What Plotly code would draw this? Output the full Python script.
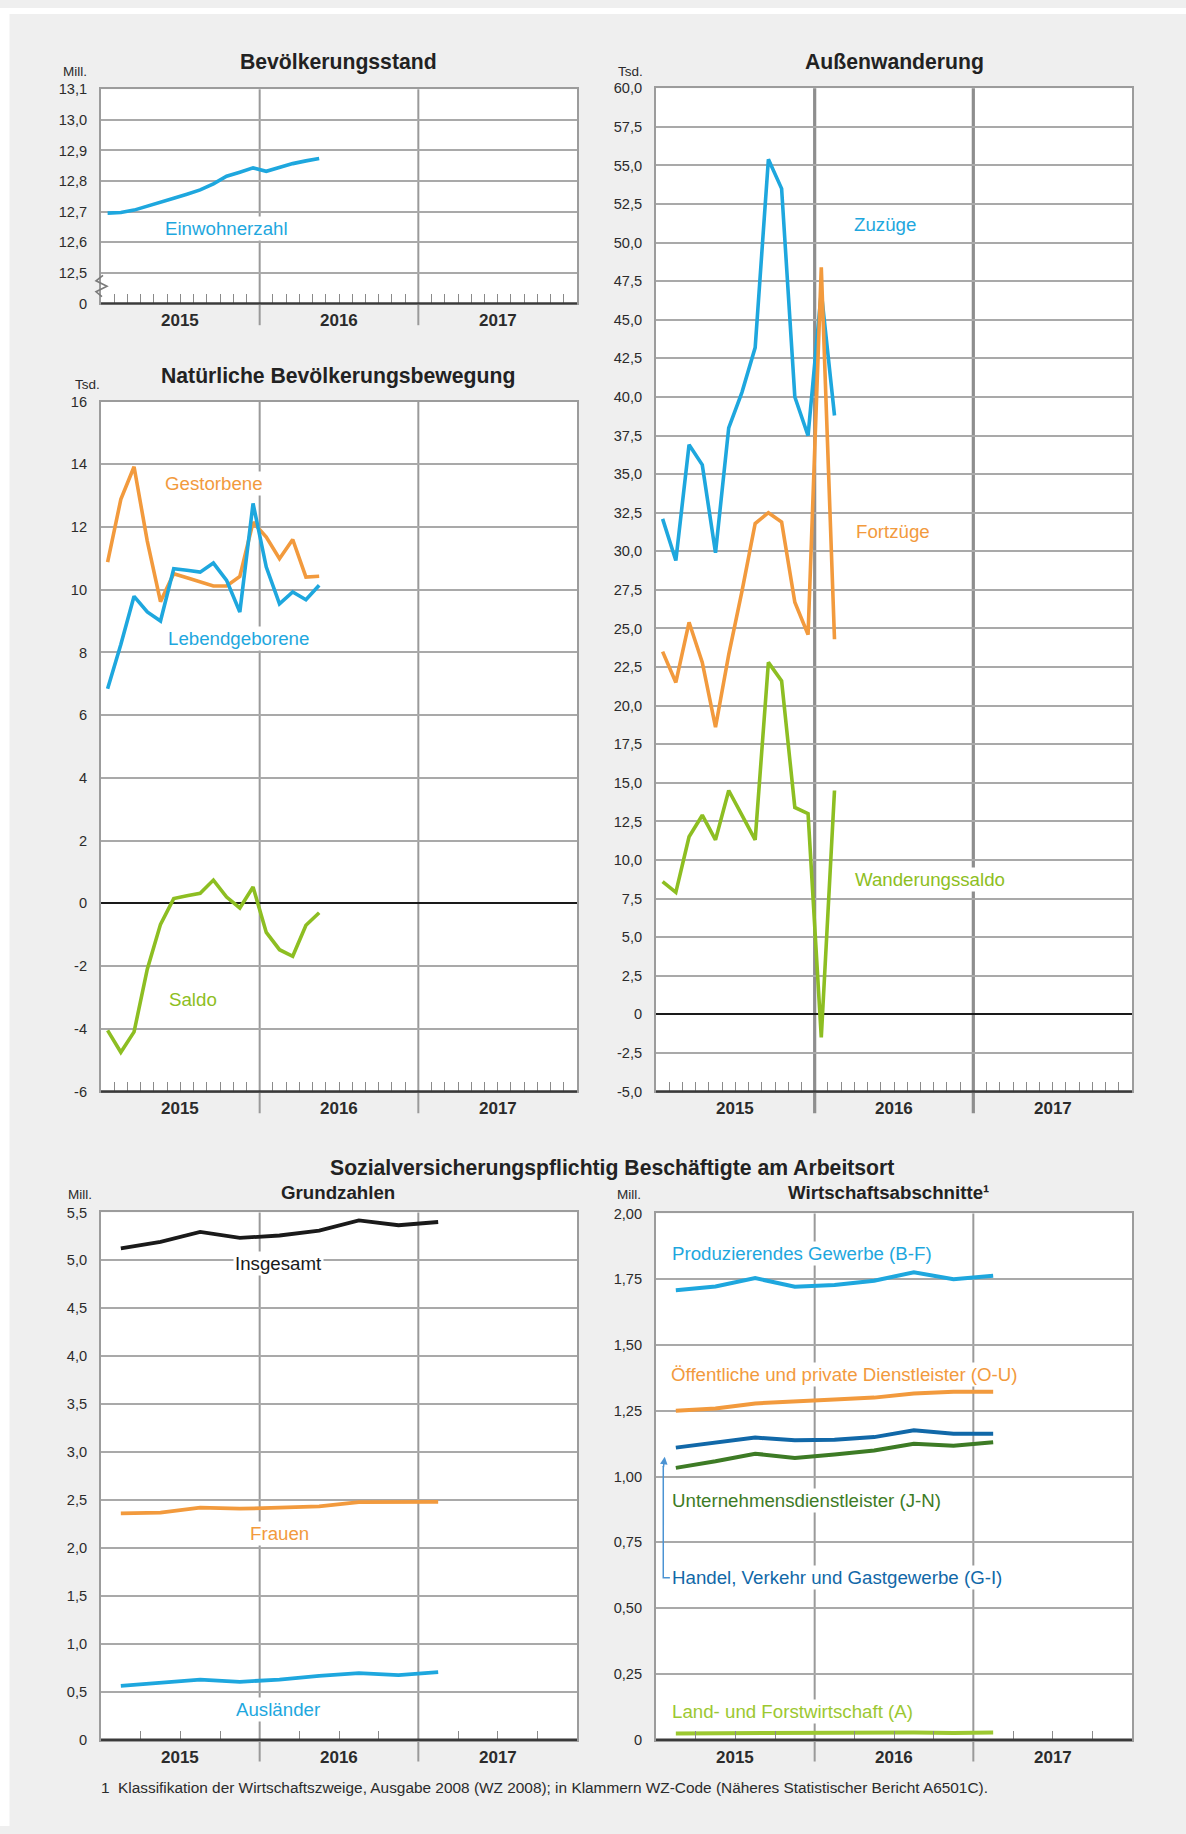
import plotly.graph_objects as go

W, H = 1186, 1834

# ---------------- data ----------------
pop_months = ["2015-01", "2015-02", "2015-03", "2015-04", "2015-05", "2015-06",
              "2015-07", "2015-08", "2015-09", "2015-10", "2015-11", "2015-12",
              "2016-01", "2016-02", "2016-03", "2016-04", "2016-05"]
einwohner = [12.695, 12.697, 12.705, 12.717, 12.730, 12.744, 12.757, 12.771, 12.791,
             12.816, 12.829, 12.843, 12.832, 12.845, 12.857, 12.866, 12.874]

nat_months = pop_months
gestorbene = [10.88, 12.88, 13.92, 11.55, 9.62, 10.51, 10.38, 10.24, 10.12, 10.12,
              10.42, 12.15, 11.68, 10.99, 11.60, 10.40, 10.43]
lebendgeborene = [6.84, 8.25, 9.79, 9.29, 9.00, 10.67, 10.62, 10.56, 10.85, 10.30,
                  9.29, 12.75, 10.72, 9.55, 9.93, 9.68, 10.14]
saldo_natuerlich = [-4.05, -4.75, -4.10, -2.10, -0.67, 0.15, 0.24, 0.32, 0.74, 0.20,
                    -0.15, 0.52, -0.93, -1.48, -1.69, -0.70, -0.30]

wand_months = ["2015-01", "2015-02", "2015-03", "2015-04", "2015-05", "2015-06",
               "2015-07", "2015-08", "2015-09", "2015-10", "2015-11", "2015-12",
               "2016-01", "2016-02"]
zuzuege = [32.1, 29.4, 36.9, 35.6, 29.9, 38.0, 40.3, 43.2, 55.4, 53.5, 40.0, 37.5, 46.8, 38.8]
fortzuege = [23.5, 21.5, 25.4, 22.8, 18.6, 23.3, 27.4, 31.8, 32.5, 31.9, 26.7, 24.6, 48.4, 24.3]
wanderungssaldo = [8.6, 7.9, 11.5, 12.9, 11.3, 14.5, 12.9, 11.3, 22.8, 21.6, 13.4, 13.0, -1.5, 14.5]

quarters = ["2015-Q1", "2015-Q2", "2015-Q3", "2015-Q4", "2016-Q1", "2016-Q2",
            "2016-Q3", "2016-Q4", "2017-Q1"]
insgesamt = [5.124, 5.193, 5.297, 5.234, 5.259, 5.310, 5.417, 5.366, 5.400]
frauen = [2.360, 2.368, 2.420, 2.410, 2.420, 2.434, 2.478, 2.478, 2.480]
auslaender = [0.563, 0.594, 0.628, 0.604, 0.628, 0.667, 0.694, 0.674, 0.705]

prod_gewerbe = [1.708, 1.722, 1.754, 1.721, 1.728, 1.744, 1.776, 1.750, 1.763]
oeff_dienst = [1.250, 1.259, 1.278, 1.287, 1.293, 1.300, 1.316, 1.322, 1.322]
handel_verkehr = [1.110, 1.128, 1.148, 1.138, 1.140, 1.150, 1.176, 1.163, 1.163]
untern_dienst = [1.033, 1.058, 1.087, 1.071, 1.084, 1.099, 1.125, 1.117, 1.130]
land_forst = [0.024, 0.025, 0.026, 0.025, 0.027, 0.029, 0.028, 0.026, 0.028]

years = ["2015", "2016", "2017"]

# ---------------- helpers ----------------
def month_x(lbl):
    y, m = lbl.split("-")
    return (int(y) - 2015) * 12 + int(m) - 0.5


def quarter_x(lbl):
    y, q = lbl.split("-Q")
    return (int(y) - 2015) * 12 + (int(q) - 1) * 3 + 1.5


def px(x):
    return x / W


def py(y):
    return 1 - y / H


FONT = "Liberation Sans, Arial, Helvetica, sans-serif"
LBLUE = "#1ea7de"
ORANGE = "#f29a3d"
GREEN = "#8dbe22"
LGREEN = "#9cc831"
DBLUE = "#1168a8"
DGREEN = "#3d7b25"
BLACK = "#1a1a1a"
GRID = "#a9a9a9"
BORDER = "#9c9c9c"
TXT = "#2b2b2b"

panels = {
    1: dict(x0=101, x1=577, y0=82, y1=298),
    2: dict(x0=656, x1=1132, y0=81, y1=1093),
    3: dict(x0=101, x1=577, y0=397, y1=1093),
    4: dict(x0=101, x1=577, y0=1215, y1=1747),
    5: dict(x0=656, x1=1132, y0=1216, y1=1747),
}


def ax(k):
    return "" if k == 1 else str(k)


fig = go.Figure()


def add_line(k, xs, ys, color, width=3.6):
    fig.add_trace(go.Scatter(
        x=xs, y=ys, mode="lines",
        line=dict(color=color, width=width, shape="linear"),
        xaxis="x" + ax(k), yaxis="y" + ax(k),
        hoverinfo="skip", showlegend=False))


# panel 1
add_line(1, [month_x(m) for m in pop_months], einwohner, LBLUE)
# panel 3
nx = [month_x(m) for m in nat_months]
add_line(3, nx, saldo_natuerlich, GREEN)
add_line(3, nx, gestorbene, ORANGE)
add_line(3, nx, lebendgeborene, LBLUE)
# panel 2
wx = [month_x(m) for m in wand_months]
add_line(2, wx, wanderungssaldo, GREEN)
add_line(2, wx, zuzuege, LBLUE)
add_line(2, wx, fortzuege, ORANGE)
# panel 4
qx = [quarter_x(q) for q in quarters]
add_line(4, qx, insgesamt, BLACK, 3.8)
add_line(4, qx, frauen, ORANGE, 3.8)
add_line(4, qx, auslaender, LBLUE, 3.8)
# panel 5
add_line(5, qx, prod_gewerbe, LBLUE, 4)
add_line(5, qx, oeff_dienst, ORANGE, 4)
add_line(5, qx, handel_verkehr, DBLUE, 4)
add_line(5, qx, untern_dienst, DGREEN, 4)
add_line(5, qx, land_forst, LGREEN, 4)

# ---------------- axes ----------------
def fmt(v, dec):
    if abs(v) < 1e-9:
        return "0"
    return f"{v:.{dec}f}".replace(".", ",")


ytick_cfg = {
    1: ([12.4 + 0.1 * i for i in range(8)],
        ["0"] + [fmt(12.5 + 0.1 * i, 1) for i in range(7)], [12.4, 13.1]),
    2: ([-5 + 2.5 * i for i in range(27)],
        [fmt(-5 + 2.5 * i, 1) for i in range(27)], [-5, 60]),
    3: ([-6 + 2 * i for i in range(12)],
        [str(-6 + 2 * i) for i in range(12)], [-6, 16]),
    4: ([0.5 * i for i in range(12)],
        [fmt(0.5 * i, 1) for i in range(12)], [0, 5.5]),
    5: ([0.25 * i for i in range(9)],
        [fmt(0.25 * i, 2) for i in range(9)], [0, 2.0]),
}

monthly_ticks = [m for m in range(1, 36) if m % 12 != 0]
quarter_ticks = [m for m in range(3, 36, 3) if m % 12 != 0]

layout = dict(
    width=W, height=H, autosize=False,
    margin=dict(l=0, r=0, t=0, b=0),
    paper_bgcolor="#efefef", plot_bgcolor="#ffffff",
    font=dict(family=FONT, color=TXT),
    showlegend=False,
)

for k, p in panels.items():
    tv, tt, rng = ytick_cfg[k]
    layout["xaxis" + ax(k)] = dict(
        domain=[px(p["x0"]), px(p["x1"])], anchor="y" + ax(k),
        range=[0, 36], showgrid=False, zeroline=False,
        tickmode="array", tickvals=monthly_ticks if k <= 3 else quarter_ticks,
        ticks="inside", ticklen=9, tickwidth=1.3, tickcolor="#8a8a8a",
        showticklabels=False,
        showline=True, mirror=True, linecolor=BORDER, linewidth=2,
        fixedrange=True)
    layout["yaxis" + ax(k)] = dict(
        domain=[py(p["y1"]), py(p["y0"])], anchor="x" + ax(k),
        range=rng, tickmode="array", tickvals=tv, ticktext=tt,
        ticks="", ticklabelstandoff=9,
        tickfont=dict(family=FONT, size=14.6, color=TXT),
        showgrid=True, gridcolor=GRID, gridwidth=1.5,
        zeroline=(k in (2, 3)), zerolinecolor="#1a1a1a", zerolinewidth=1.6,
        showline=True, mirror=True, linecolor=BORDER, linewidth=2,
        fixedrange=True)

fig.update_layout(**layout)

shapes = []
annotations = []

# white page edges
shapes.append(dict(type="rect", xref="paper", yref="paper", x0=0, x1=1,
                   y0=py(6), y1=1, fillcolor="white", line=dict(width=0), layer="above"))
shapes.append(dict(type="rect", xref="paper", yref="paper", x0=0, x1=px(9.5),
                   y0=0, y1=1, fillcolor="white", line=dict(width=0), layer="above"))

for k, p in panels.items():
    hpx = p["y1"] - p["y0"]
    ext = 22 / hpx
    lw = 3.2 if k == 2 else 2
    lc = "#8e8e8e" if k == 2 else "#9a9a9a"
    for xv in (12, 24):
        shapes.append(dict(type="line", xref="x" + ax(k), yref="y" + ax(k) + " domain",
                           x0=xv, x1=xv, y0=-ext, y1=1,
                           line=dict(color=lc, width=lw), layer="below"))
    # dark bottom axis line
    shapes.append(dict(type="line", xref="x" + ax(k) + " domain", yref="y" + ax(k) + " domain",
                       x0=0, x1=1, y0=0, y1=0,
                       line=dict(color="#3a3a3a", width=2.4), layer="above"))
    # year labels
    for i, yl in enumerate(years):
        annotations.append(dict(text="<b>" + yl + "</b>", xref="x" + ax(k),
                                yref="y" + ax(k) + " domain", x=6 + 12 * i, y=0,
                                yshift=-17.5, showarrow=False, yanchor="middle",
                                font=dict(family=FONT, size=17, color=TXT)))

# axis break symbol on panel 1 (drawn in page coordinates so it is not clipped)
p1 = panels[1]


def p1_y(v):
    return p1["y0"] + (13.1 - v) / 0.7 * (p1["y1"] - p1["y0"])


zig = [(p1["x0"] + 2, 12.492), (p1["x0"] - 5, 12.474), (p1["x0"] + 6, 12.456),
       (p1["x0"] - 5, 12.438), (p1["x0"] + 1, 12.422)]
zpath = "M " + " L ".join(f"{px(a):.5f},{py(p1_y(b)):.5f}" for a, b in zig)
shapes.append(dict(type="path", xref="paper", yref="paper", path=zpath,
                   line=dict(color="#7a7a7a", width=1.6), layer="above"))

# bracket for Handel label
shapes.append(dict(type="path", xref="x5", yref="y5",
                   path="M 1.05,0.616 L 0.55,0.616 L 0.55,1.04",
                   line=dict(color="#4b93d3", width=1.5), layer="above"))
annotations.append(dict(x=0.66, y=1.075, ax=0.55, ay=1.03, xref="x5", yref="y5",
                        axref="x5", ayref="y5", text="", showarrow=True,
                        arrowhead=2, arrowsize=1, arrowwidth=1.5, arrowcolor="#4b93d3"))


def title(text, x, y, size=21.2):
    annotations.append(dict(text="<b>" + text + "</b>", xref="paper", yref="paper",
                            x=px(x), y=py(y), showarrow=False, xanchor="center",
                            yanchor="middle", font=dict(family=FONT, size=size, color="#222222")))


title("Bevölkerungsstand", 338, 54)
title("Außenwanderung", 894, 54)
title("Natürliche Bevölkerungsbewegung", 338, 371)
title("Sozialversicherungspflichtig Beschäftigte am Arbeitsort", 612, 1170)
title("Grundzahlen", 338, 1195, 18.7)
title("Wirtschaftsabschnitte¹", 889, 1195, 18.7)


def unit(text, x, y):
    annotations.append(dict(text=text, xref="paper", yref="paper", x=px(x), y=py(y),
                            showarrow=False, xanchor="left", yanchor="middle",
                            font=dict(family=FONT, size=13.5, color=TXT)))


unit("Mill.", 61, 64)
unit("Tsd.", 616, 64)
unit("Tsd.", 73, 380)
unit("Mill.", 66, 1197)
unit("Mill.", 615, 1197)


def label(k, text, x, y, color, anchor="center"):
    annotations.append(dict(text=text, xref="x" + ax(k), yref="y" + ax(k), x=x, y=y,
                            showarrow=False, xanchor=anchor, yanchor="middle",
                            bgcolor="white", borderpad=1,
                            font=dict(family=FONT, size=18.7, color=color)))


label(1, "Einwohnerzahl", 9.5, 12.646, LBLUE)
label(3, "Gestorbene", 8.55, 13.38, ORANGE)
label(3, "Lebendgeborene", 10.37, 8.44, LBLUE)
label(3, "Saldo", 6.95, -3.06, GREEN)
label(2, "Zuzüge", 17.35, 51.15, LBLUE)
label(2, "Fortzüge", 17.95, 31.3, ORANGE)
label(2, "Wanderungssaldo", 20.7, 8.76, GREEN)
label(4, "Insgesamt", 13.4, 4.965, BLACK)
label(4, "Frauen", 13.5, 2.15, ORANGE)
label(4, "Ausländer", 13.4, 0.32, LBLUE)
label(5, "Produzierendes Gewerbe (B-F)", 1.05, 1.846, LBLUE, "left")
label(5, "Öffentliche und private Dienstleister (O-U)", 0.95, 1.386, ORANGE, "left")
label(5, "Unternehmensdienstleister (J-N)", 1.05, 0.911, DGREEN, "left")
label(5, "Handel, Verkehr und Gastgewerbe (G-I)", 1.05, 0.616, DBLUE, "left")
label(5, "Land- und Forstwirtschaft (A)", 1.05, 0.108, LGREEN, "left")

# footnote
annotations.append(dict(text="1", xref="paper", yref="paper", x=px(99), y=py(1795),
                        showarrow=False, xanchor="left", yanchor="middle",
                        font=dict(family=FONT, size=15.4, color=TXT)))
annotations.append(dict(
    text="Klassifikation der Wirtschaftszweige, Ausgabe 2008 (WZ 2008); in Klammern WZ-Code (Näheres Statistischer Bericht A6501C).",
    xref="paper", yref="paper", x=px(116), y=py(1795), showarrow=False,
    xanchor="left", yanchor="middle", font=dict(family=FONT, size=15.4, color=TXT)))

fig.update_layout(shapes=shapes, annotations=annotations)
fig.write_html("out.html", config={"displayModeBar": False},
               post_script="document.body.style.margin='0';document.body.style.overflow='hidden';")
